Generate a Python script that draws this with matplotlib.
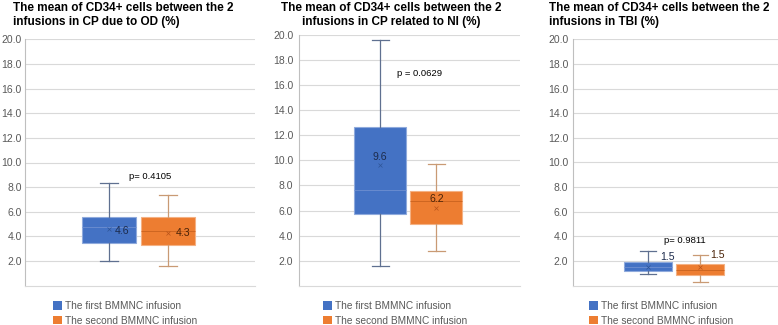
import matplotlib
matplotlib.use("Agg")
import matplotlib.pyplot as plt
from matplotlib.patches import Patch

plt.rcParams["font.family"] = ["Liberation Sans", "DejaVu Sans"]

# box statistics: (whislo, q1, med, q3, whishi, mean)
titles = ["The mean of CD34+ cells between the 2\ninfusions in CP due to OD (%)",
          "The mean of CD34+ cells between the 2\ninfusions in CP related to NI (%)",
          "The mean of CD34+ cells between the 2\ninfusions in TBI (%)"]
first_infusion = [(2.0, 3.45, 4.8, 5.6, 8.3, 4.6),
                  (1.6, 5.7, 7.6, 12.7, 19.6, 9.6),
                  (0.95, 1.15, 1.5, 1.95, 2.85, 1.5)]
second_infusion = [(1.6, 3.3, 4.4, 5.55, 7.35, 4.3),
                   (2.75, 4.9, 6.8, 7.55, 9.7, 6.2),
                   (0.3, 0.85, 1.3, 1.75, 2.5, 1.5)]
p_labels = ["p= 0.4105", "p = 0.0629", "p= 0.9811"]
p_heights = [8.9, 16.9, 3.7]
series_names = ["The first BMMNC infusion", "The second BMMNC infusion"]
yticks = [2, 4, 6, 8, 10, 12, 14, 16, 18, 20]

BLUE, ORANGE = "#4472C4", "#ED7D31"
fill = [BLUE, ORANGE]
edge = ["#8FAADC", "#F4B183"]
whisk = ["#5F7090", "#C99A74"]
med_col = ["#6E8FD0", "#C8621F"]
mean_col = ["#2F5597", "#B9541A"]
lab_col = ["#1C2B4C", "#4A2308"]

W, H = 778, 325
fig = plt.figure(figsize=(W / 100, H / 100), dpi=100)

# axes boxes in pixels: left, right, top, bottom
boxes = [(25, 255, 39.3, 285.7), (299.3, 520, 35, 285.8), (573.3, 778, 39.3, 285.6)]
tick_pad = [2.4, 4.3, 3.6]
title_pos = [(12.7, "left"), (391.7, "center"), (548.7, "left")]
legend_x = [52.7, 323.3, 589]
# label placement per panel: (dx, dy, ha) relative to the mean marker
label_off = [[(0.09, -0.2, "left"), (0.13, -0.05, "left")],
             [(0.0, 0.7, "center"), (0.0, 0.75, "center")],
             [(0.36, 0.85, "center"), (0.32, 1.0, "center")]]

def stats(t, name):
    lo, q1, med, q3, hi, mean = t
    return dict(whislo=lo, q1=q1, med=med, q3=q3, whishi=hi, mean=mean, label=name)

for i in range(3):
    l, r, t, b = boxes[i]
    ax = fig.add_axes([l / W, 1 - b / H, (r - l) / W, (b - t) / H])
    data = [first_infusion[i], second_infusion[i]]
    for j in range(2):
        ax.bxp([stats(data[j], series_names[j])], positions=[j + 1], widths=0.92,
               patch_artist=True, showmeans=True, showfliers=False,
               boxprops=dict(facecolor=fill[j], edgecolor=edge[j], linewidth=0.8),
               whiskerprops=dict(color=whisk[j], linewidth=0.9),
               capprops=dict(color=whisk[j], linewidth=0.9),
               capwidths=0.3,
               medianprops=dict(color=med_col[j], linewidth=0.6),
               meanprops=dict(marker="x", markersize=3, markeredgecolor=mean_col[j],
                              markeredgewidth=0.5),
               zorder=3)
        dx, dy, ha = label_off[i][j]
        mean = data[j][5]
        ax.text(j + 1 + dx, mean + dy, f"{mean:.1f}", ha=ha, va="center",
                fontsize=7.6, color=lab_col[j], zorder=5)

    ax.text(1.7, p_heights[i], p_labels[i], ha="center", va="center",
            fontsize=6.8, color="black")

    ax.set_xlim(-0.44, 3.49)
    ax.set_ylim(0, 20)
    ax.set_yticks(yticks)
    ax.set_yticklabels([f"{v:.1f}" for v in yticks])
    ax.set_xticks([])
    ax.tick_params(axis="y", length=0, pad=tick_pad[i], labelsize=7.5,
                   labelcolor="#595959")
    ax.grid(axis="y", color="#D9D9D9", linewidth=0.8, zorder=0)
    ax.set_axisbelow(True)
    for s in ["top", "right"]:
        ax.spines[s].set_visible(False)
    ax.spines["left"].set_color("#BFBFBF")
    ax.spines["bottom"].set_color("#D9D9D9")
    ax.spines["left"].set_linewidth(0.8)
    ax.spines["bottom"].set_linewidth(0.8)

    tx, tha = title_pos[i]
    fig.text(tx / W, 1 - 2 / H, titles[i], ha=tha, va="top", fontsize=8.5,
             fontweight="bold", linespacing=1.2)

    handles = [Patch(facecolor=fill[k], edgecolor="none") for k in range(2)]
    fig.legend(handles, series_names, loc="upper left",
               bbox_to_anchor=(legend_x[i] / W, 1 - 301 / H), frameon=False,
               fontsize=7.3, labelcolor="#595959", handlelength=0.9,
               handleheight=0.9, handletextpad=0.3, labelspacing=0.45,
               borderpad=0, borderaxespad=0)

fig.savefig("out.png", dpi=100)
